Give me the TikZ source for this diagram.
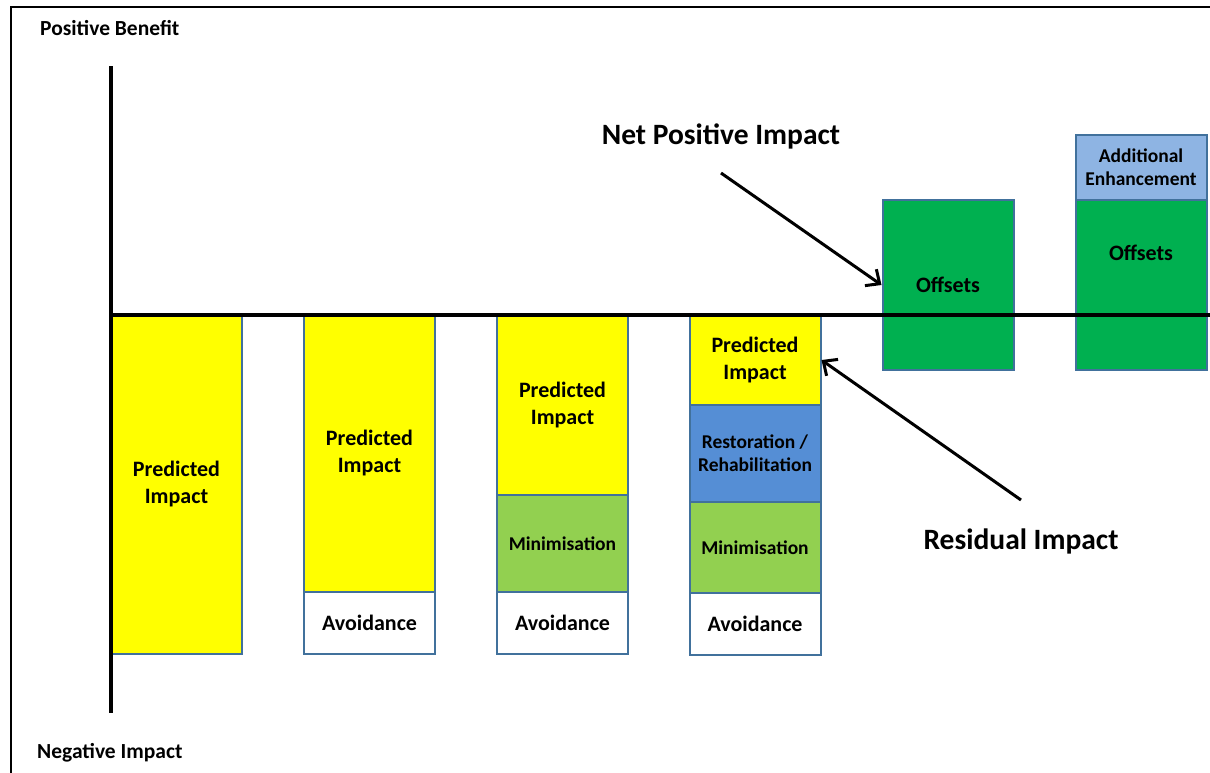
\documentclass[tikz,border=0pt]{standalone}
\usepackage{fontspec}
\setmainfont{Carlito}
\usetikzlibrary{arrows.meta}
\definecolor{bordc}{HTML}{41719C}
\definecolor{ylw}{HTML}{FFFF00}
\definecolor{lgreen}{HTML}{92D050}
\definecolor{dgreen}{HTML}{00B050}
\definecolor{mblue}{HTML}{558ED5}
\definecolor{lblue}{HTML}{8EB4E3}
\tikzset{
  box/.style={draw=bordc, line width=2pt, rectangle, inner sep=0pt, align=center,
    minimum width=131pt, font=\bfseries\fontsize{22}{27}\selectfont},
  small/.style={font=\bfseries\fontsize{19.5}{23}\selectfont},
  axis/.style={line width=3.5pt, black},
  lbl/.style={font=\bfseries\fontsize{21.5}{24}\selectfont, anchor=west, inner sep=0pt},
  big/.style={font=\bfseries\fontsize{29.5}{32}\selectfont, inner sep=0pt},
  pointer/.style={line width=3pt, -{Straight Barb[length=11pt,width=20pt,line width=3pt]}}
}
\begin{document}
\begin{tikzpicture}[x=1pt,y=-1pt]
\useasboundingbox (0,0) rectangle (1210,772);
% frame
\draw[line width=2.2pt] (11,780) -- (11,7) -- (1220,7);
% bar 1
\node[box, fill=ylw, minimum height=339pt] (b1) at (176.5,484.5) {Predicted\\Impact};
% bar 2
\node[box, fill=ylw, minimum height=277pt] (b2p) at (369.5,453.5) {Predicted\\Impact};
\node[box, fill=white, minimum height=62pt] (b2a) at (369.5,623) {Avoidance};
% bar 3
\node[box, fill=ylw, minimum height=180pt] (b3p) at (562.5,405) {Predicted\\Impact};
\node[box, small, fill=lgreen, minimum height=97pt] (b3m) at (562.5,543.5) {Minimisation};
\node[box, fill=white, minimum height=62pt] (b3a) at (562.5,623) {Avoidance};
% bar 4
\node[box, fill=ylw, minimum height=90pt] (b4p) at (755,360) {Predicted\\Impact};
\node[box, small, fill=mblue, minimum height=97pt] (b4r) at (755,453.5) {Restoration /\\Rehabilitation};
\node[box, small, fill=lgreen, minimum height=91pt] (b4m) at (755,547.5) {Minimisation};
\node[box, fill=white, minimum height=62pt] (b4a) at (755,624) {Avoidance};
% offsets 1
\node[box, fill=dgreen, minimum height=170pt] (o1) at (948,285) {Offsets};
% bar 6
\node[box, small, fill=lblue, minimum height=65pt] (b6e) at (1141,167.5) {Additional\\Enhancement};
\node[box, fill=dgreen, minimum height=170pt] (o2) at (1141,285) {};
\node[font=\bfseries\fontsize{22}{27}\selectfont] (o2t) at (1141,253) {Offsets};
% axes
\draw[axis] (111,66) -- (111,713);
\draw[axis] (111,315) -- (1212,315);
% labels
\node[lbl] (pb) at (40,28) {Positive Benefit};
\node[lbl] (ni) at (37,753) {Negative Impact};
\node[big] (npi) at (721,136) {Net Positive Impact};
\node[big] (ri) at (1021,541) {Residual Impact};
\coordinate (npis) at (721,173);
\coordinate (ris) at (1021,500);
\draw[pointer] (npis) -- (o1.west);
\draw[pointer] (ris) -- (b4p.east);
\end{tikzpicture}
\end{document}
